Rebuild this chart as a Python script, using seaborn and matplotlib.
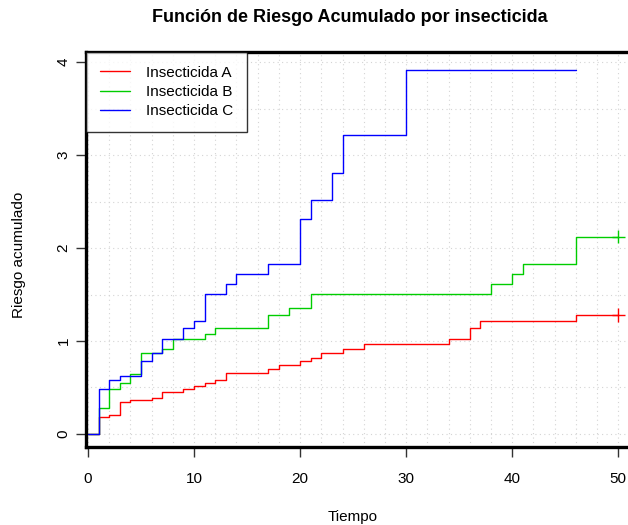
import numpy as np
import pandas as pd
import matplotlib
matplotlib.use("Agg")
import matplotlib.pyplot as plt
import seaborn as sns
from matplotlib.lines import Line2D

# Cumulative hazard step functions (time, value) for each insecticide
tiempo_a = [0, 1, 2, 3, 4, 6, 7, 9, 10, 11, 12, 13, 17, 18, 20, 21, 22, 24, 26, 34, 36, 37, 46, 50]
riesgo_a = [0, 0.18, 0.20, 0.34, 0.37, 0.39, 0.45, 0.48, 0.52, 0.55, 0.58, 0.66, 0.70, 0.74,
            0.78, 0.82, 0.87, 0.91, 0.97, 1.02, 1.14, 1.21, 1.28, 1.28]

tiempo_b = [0, 1, 2, 3, 4, 5, 7, 8, 11, 12, 17, 19, 21, 38, 40, 41, 46, 50]
riesgo_b = [0, 0.28, 0.48, 0.55, 0.65, 0.87, 0.91, 1.02, 1.08, 1.14, 1.28, 1.35, 1.51,
            1.61, 1.72, 1.83, 2.12, 2.12]

tiempo_c = [0, 1, 2, 3, 5, 6, 7, 9, 10, 11, 13, 14, 17, 20, 21, 23, 24, 30, 46]
riesgo_c = [0, 0.48, 0.58, 0.62, 0.78, 0.87, 1.02, 1.14, 1.21, 1.51, 1.61, 1.72, 1.83,
            2.31, 2.52, 2.81, 3.22, 3.91, 3.91]

grupos = ["Insecticida A", "Insecticida B", "Insecticida C"]
colores = ["#FF0000", "#00CD00", "#0000FF"]

# Censored observations (marked with +)
censura_grupo = ["Insecticida A", "Insecticida B"]
censura_tiempo = [50, 50]
censura_riesgo = [1.28, 2.12]

df = pd.concat([
    pd.DataFrame({"Tiempo": tiempo_a, "Riesgo": riesgo_a, "Grupo": grupos[0]}),
    pd.DataFrame({"Tiempo": tiempo_b, "Riesgo": riesgo_b, "Grupo": grupos[1]}),
    pd.DataFrame({"Tiempo": tiempo_c, "Riesgo": riesgo_c, "Grupo": grupos[2]}),
], ignore_index=True)
cens = pd.DataFrame({"Tiempo": censura_tiempo, "Riesgo": censura_riesgo, "Grupo": censura_grupo})

sns.set_theme(style="white")
plt.rcParams["font.family"] = ["Liberation Sans", "DejaVu Sans"]
plt.rcParams["text.color"] = "black"

W, H = 628, 525
fig = plt.figure(figsize=(W / 100, H / 100), dpi=100)
left, right, bottom, top = 86, 632, 447, 52
ax = fig.add_axes([left / W, 1 - bottom / H, (right - left) / W, (bottom - top) / H])

# dotted background grid
for gx in np.arange(0, 52, 2):
    ax.axvline(gx, color="#D4D4D4", lw=0.8, ls=(0, (1, 3)), zorder=0)
for gy in np.arange(0, 4.5, 0.5):
    ax.axhline(gy, color="#D4D4D4", lw=0.8, ls=(0, (1, 3)), zorder=0)

palette = dict(zip(grupos, colores))
sns.lineplot(data=df, x="Tiempo", y="Riesgo", hue="Grupo", palette=palette,
             drawstyle="steps-post", estimator=None, sort=False, lw=1.0, ax=ax,
             legend=False)
sns.scatterplot(data=cens, x="Tiempo", y="Riesgo", hue="Grupo", palette=palette,
                marker="+", s=90, linewidth=1.0, ax=ax, legend=False, zorder=5)

ax.set_xlim(-0.19, 51.3)
ax.set_ylim(-0.14, 4.108)
ax.set_xticks([0, 10, 20, 30, 40, 50])
ax.set_yticks([0, 1, 2, 3, 4])
ax.tick_params(axis="both", which="major", direction="out", length=7, width=1,
               color="#333333", labelsize=11, labelcolor="black", bottom=True, left=True)
ax.tick_params(axis="x", pad=11)
ax.tick_params(axis="y", pad=4)
for lab in ax.get_yticklabels():
    lab.set_rotation(90)
    lab.set_va("center")
ax.set_xlabel("")
ax.set_ylabel("")
for sp in ax.spines.values():
    sp.set_linewidth(2.4)
    sp.set_color("black")
ax.spines["right"].set_visible(False)

handles = [Line2D([0], [0], color=c, lw=1.0) for c in colores]
leg = ax.legend(handles, grupos, loc="upper left", bbox_to_anchor=(0, 1),
                borderaxespad=0, frameon=True, fancybox=False, fontsize=11,
                handlelength=2.0, handletextpad=1.0, labelspacing=0.35,
                borderpad=0.9)
leg.get_frame().set_edgecolor("black")
leg.get_frame().set_linewidth(1.0)

fig.text(350 / W, 1 - 18 / H, "Función de Riesgo Acumulado por insecticida",
         ha="center", va="center", fontsize=13, fontweight="bold")
fig.text(353 / W, 1 - 517 / H, "Tiempo", ha="center", va="center", fontsize=11)
fig.text(19 / W, 1 - 255 / H, "Riesgo acumulado", ha="center", va="center",
         rotation=90, fontsize=11)

fig.savefig("out.png", dpi=100)
